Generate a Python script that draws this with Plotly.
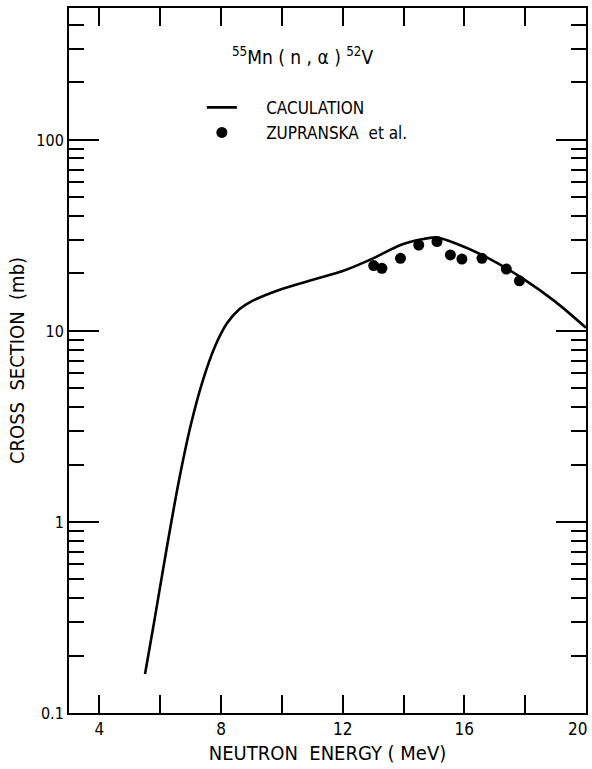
import plotly.graph_objects as go

# Calculation curve (neutron energy MeV, cross section mb)
calc_energy = [5.5, 5.8, 6.2, 6.6, 7.0, 7.4, 7.8, 8.2, 8.6, 9.0, 10.0, 11.0, 12.0, 13.0, 13.9, 14.6, 15.07, 15.7, 16.8, 17.9, 19.0, 20.0]
calc_xs = [0.16, 0.30, 0.71, 1.6, 3.2, 5.5, 8.3, 11.0, 13.0, 14.3, 16.6, 18.5, 20.6, 24.0, 28.2, 30.2, 30.9, 28.8, 24.0, 18.9, 14.2, 10.4]

# Zupranska et al. experimental points
exp_energy = [13.02, 13.29, 13.90, 14.50, 15.10, 15.54, 15.92, 16.58, 17.38, 17.81]
exp_xs = [22.0, 21.3, 24.0, 28.2, 29.4, 25.0, 23.8, 24.0, 21.1, 18.3]

x_major = [4, 8, 12, 16, 20]
x_major_labels = ["4", "8", "12", "16", ""]
x_edge_value = 20
x_edge_label = "20"
x_minor = [6, 10, 14, 18]
y_major = [0.1, 1, 10, 100]
y_major_labels = ["0.1", "1", "10", "100"]
y_minor = [m * d for d in (0.1, 1, 10, 100) for m in range(2, 10)]

FONT = "Liberation Sans Narrow, DejaVu Sans Condensed, Arial Narrow, sans-serif"
PAD = "\u00a0" * 5

fig = go.Figure()
fig.add_trace(go.Scatter(
    x=calc_energy, y=calc_xs, mode="lines",
    line=dict(color="black", width=2.6, shape="spline", smoothing=0.7),
    name=PAD + "CACULATION",
))
fig.add_trace(go.Scatter(
    x=exp_energy, y=exp_xs, mode="markers",
    marker=dict(color="black", size=11, symbol="circle"),
    name=PAD + "ZUPRANSKA  et al.",
))

fig.update_layout(
    width=592, height=769,
    margin=dict(l=69, r=6, t=8, b=56),
    paper_bgcolor="white", plot_bgcolor="white",
    font=dict(family=FONT, color="black", size=15),
    showlegend=True,
    legend=dict(x=0.257, y=0.884, xanchor="left", yanchor="top",
                bgcolor="rgba(0,0,0,0)", font=dict(size=17, family=FONT),
                itemwidth=30),
    annotations=[
        dict(
            text="<sup>55</sup>Mn ( n , α ) <sup>52</sup>V",
            x=(302 - 69) / 517, y=(713 - 56) / 705, xref="paper", yref="paper",
            xanchor="center", yanchor="middle", showarrow=False,
            font=dict(size=19, family=FONT, color="black"),
        ),
        dict(
            text=x_edge_label, x=x_edge_value, xref="x", y=0, yref="paper",
            xanchor="right", yanchor="middle", xshift=3, yshift=-16,
            showarrow=False, font=dict(size=17, family=FONT, color="black"),
        ),
    ],
)

fig.update_xaxes(
    range=[3, 20], showgrid=False, zeroline=False, automargin=False,
    showline=True, linecolor="black", linewidth=2, mirror="allticks",
    tickmode="array", tickvals=x_major, ticktext=x_major_labels,
    ticks="inside", ticklen=18, tickwidth=1.5, tickcolor="black",
    tickfont=dict(size=17),
    minor=dict(tickmode="array", tickvals=x_minor, ticks="inside",
               ticklen=18, tickwidth=1.5, tickcolor="black"),
    title=dict(text="NEUTRON  ENERGY ( MeV)", font=dict(size=20), standoff=8),
)
fig.update_yaxes(
    type="log", range=[-1, 2.691], showgrid=False, zeroline=False, automargin=False,
    showline=True, linecolor="black", linewidth=2, mirror="allticks",
    tickmode="array", tickvals=y_major, ticktext=y_major_labels,
    ticks="inside", ticklen=30, tickwidth=1.5, tickcolor="black",
    tickfont=dict(size=16),
    minor=dict(tickmode="array", tickvals=y_minor, ticks="inside",
               ticklen=15, tickwidth=1.5, tickcolor="black"),
    title=dict(text="CROSS  SECTION  (mb)", font=dict(size=20), standoff=6),
)

fig.write_html("out.html", config={"displayModeBar": False},
               post_script="document.body.style.margin='0';")
